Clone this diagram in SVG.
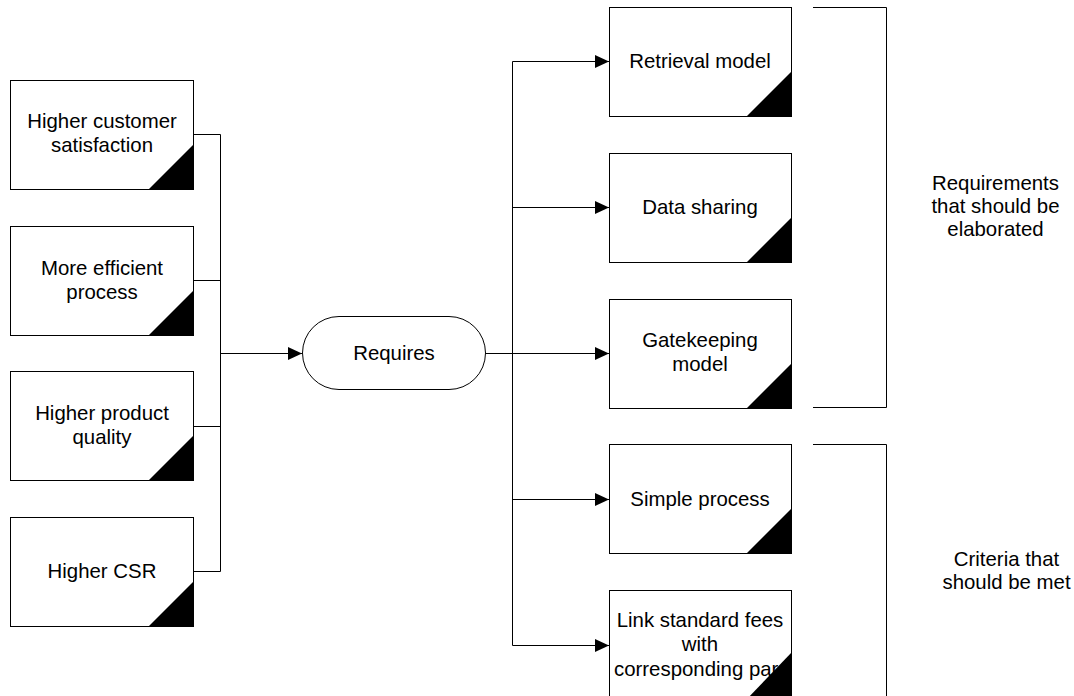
<svg xmlns="http://www.w3.org/2000/svg" width="1074" height="696" viewBox="0 0 1074 696">
<defs>
<style>
.box{fill:#fff;stroke:#000;stroke-width:1}
.tri{fill:#000;stroke:none}
.lbl{font-family:"Liberation Sans",Arial,sans-serif;font-size:20.4px;fill:#000;text-anchor:middle}
.ln{fill:none;stroke:#000;stroke-width:1}
</style>
<marker id="arr" markerUnits="userSpaceOnUse" markerWidth="14" markerHeight="13" refX="14" refY="6.5" orient="auto">
<path d="M0,0 L14,6.5 L0,13 z" fill="#000"/>
</marker>
</defs>
<rect width="1074" height="696" fill="#fff"/>

<g id="connectors">
<path class="ln" d="M193.5,134.5 H220.5 V571.5 H193.5"/>
<path class="ln" d="M193.5,280.5 H220.5"/>
<path class="ln" d="M193.5,426.5 H220.5"/>
<path class="ln" d="M220.5,353.5 H302" marker-end="url(#arr)"/>
<path class="ln" d="M486,353.5 H512.5"/>
<path class="ln" d="M512.5,61.5 V645.5"/>
<path class="ln" d="M512.5,61.5 H609" marker-end="url(#arr)"/>
<path class="ln" d="M512.5,207.5 H609" marker-end="url(#arr)"/>
<path class="ln" d="M512.5,353.5 H609" marker-end="url(#arr)"/>
<path class="ln" d="M512.5,499.5 H609" marker-end="url(#arr)"/>
<path class="ln" d="M512.5,645.5 H609" marker-end="url(#arr)"/>
</g>

<g id="n-customer">
<rect class="box" x="10.5" y="80.5" width="183" height="109"/>
<polygon class="tri" points="148,190 194,190 194,144"/>
<text class="lbl" x="102" y="128">Higher customer</text>
<text class="lbl" x="102" y="152">satisfaction</text>
</g>
<g id="n-efficient">
<rect class="box" x="10.5" y="226.5" width="183" height="109"/>
<polygon class="tri" points="148,336 194,336 194,290"/>
<text class="lbl" x="102" y="275">More efficient</text>
<text class="lbl" x="102" y="299">process</text>
</g>
<g id="n-quality">
<rect class="box" x="10.5" y="371.5" width="183" height="109"/>
<polygon class="tri" points="148,481 194,481 194,435"/>
<text class="lbl" x="102" y="420">Higher product</text>
<text class="lbl" x="102" y="444">quality</text>
</g>
<g id="n-csr">
<rect class="box" x="10.5" y="517.5" width="183" height="109"/>
<polygon class="tri" points="148,627 194,627 194,581"/>
<text class="lbl" x="102" y="578">Higher CSR</text>
</g>

<g id="n-requires">
<rect class="box" x="302.5" y="316.5" width="183" height="73" rx="36.5" ry="36.5"/>
<text class="lbl" x="394" y="360">Requires</text>
</g>

<g id="n-retrieval">
<rect class="box" x="609.5" y="7.5" width="182" height="109"/>
<polygon class="tri" points="746,117 792,117 792,71"/>
<text class="lbl" x="700" y="68">Retrieval model</text>
</g>
<g id="n-datasharing">
<rect class="box" x="609.5" y="153.5" width="182" height="109"/>
<polygon class="tri" points="746,263 792,263 792,217"/>
<text class="lbl" x="700" y="214">Data sharing</text>
</g>
<g id="n-gatekeeping">
<rect class="box" x="609.5" y="299.5" width="182" height="109"/>
<polygon class="tri" points="746,409 792,409 792,363"/>
<text class="lbl" x="700" y="347">Gatekeeping</text>
<text class="lbl" x="700" y="371">model</text>
</g>
<g id="n-simple">
<rect class="box" x="609.5" y="444.5" width="182" height="109"/>
<polygon class="tri" points="746,554 792,554 792,508"/>
<text class="lbl" x="700" y="506">Simple process</text>
</g>
<g id="n-link">
<rect class="box" x="609.5" y="590.5" width="182" height="109"/>
<text class="lbl" x="700" y="627">Link standard fees</text>
<text class="lbl" x="700" y="651">with</text>
<text class="lbl" x="614" y="676" style="text-anchor:start">corresponding par</text>
<polygon class="tri" points="746,700 792,700 792,652"/>
</g>

<g id="brackets">
<path class="ln" d="M813,7.5 H886.5 V407.5 H813"/>
<path class="ln" d="M813,444.5 H886.5 V700"/>
</g>

<g id="n-req-label">
<text class="lbl" x="995.5" y="190">Requirements</text>
<text class="lbl" x="995.5" y="213">that should be</text>
<text class="lbl" x="995.5" y="236">elaborated</text>
</g>
<g id="n-crit-label">
<text class="lbl" x="1006.5" y="566">Criteria that</text>
<text class="lbl" x="1006.5" y="589">should be met</text>
</g>
</svg>
